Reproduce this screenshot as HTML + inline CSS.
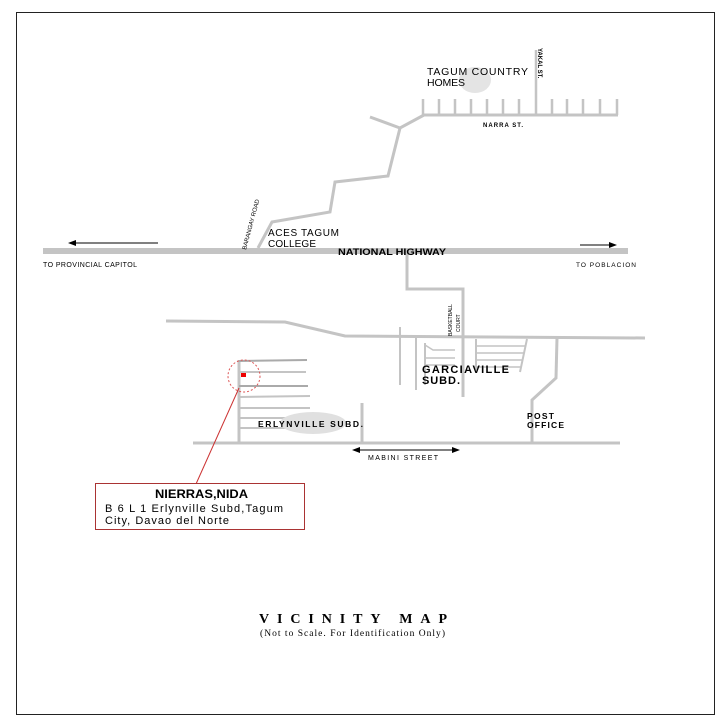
<!DOCTYPE html>
<html><head><style>
body{margin:0;background:#fff}
svg{display:block}
.s{font-family:"Liberation Sans",sans-serif}
</style></head><body>
<svg width="720" height="720" viewBox="0 0 720 720" xmlns="http://www.w3.org/2000/svg">
<rect width="720" height="720" fill="#fff"/>
<rect x="16.5" y="12.5" width="698" height="702" fill="none" stroke="#222" stroke-width="1"/>
<g stroke="#c4c4c4" fill="none" stroke-linejoin="miter">
 <line x1="43" y1="251" x2="628" y2="251" stroke-width="6"/>
 <polyline points="258,248 272,222 330,212 335,182 388,176 400,128" stroke-width="3"/>
 <polyline points="370,117 400,128 424,115" stroke-width="3"/>
 <line x1="423" y1="115" x2="618" y2="115" stroke-width="3"/>
 <g stroke-width="2.5">
  <line x1="423" y1="99" x2="423" y2="115"/><line x1="439" y1="99" x2="439" y2="115"/>
  <line x1="455" y1="99" x2="455" y2="115"/><line x1="471" y1="99" x2="471" y2="115"/>
  <line x1="487" y1="99" x2="487" y2="115"/><line x1="503" y1="99" x2="503" y2="115"/>
  <line x1="519" y1="99" x2="519" y2="115"/><line x1="536" y1="50" x2="536" y2="115"/>
  <line x1="552" y1="99" x2="552" y2="115"/><line x1="567" y1="99" x2="567" y2="115"/>
  <line x1="583" y1="99" x2="583" y2="115"/><line x1="600" y1="99" x2="600" y2="115"/>
  <line x1="617" y1="99" x2="617" y2="115"/>
 </g>
 <polyline points="407,254 407,289 463,289 463,397" stroke-width="3"/>
 <polyline points="166,321 285,322 345,336 645,338" stroke-width="3"/>
 <line x1="400" y1="327" x2="400" y2="385" stroke-width="2"/>
 <line x1="416" y1="338" x2="416" y2="390" stroke-width="2"/>
 <line x1="425" y1="343" x2="425" y2="385" stroke-width="2"/>
 <g stroke-width="1.5">
  <polyline points="425,345 433,350 455,350"/>
  <line x1="425" y1="358" x2="455" y2="358"/>
  <line x1="425" y1="365" x2="455" y2="365"/>
 </g>
 <line x1="476" y1="339" x2="476" y2="372" stroke-width="2"/>
 <line x1="527" y1="339" x2="520" y2="372" stroke-width="2"/>
 <g stroke-width="1.5">
  <line x1="476" y1="346" x2="525" y2="346"/><line x1="476" y1="353" x2="524" y2="353"/>
  <line x1="476" y1="360" x2="523" y2="360"/><line x1="476" y1="367" x2="521" y2="367"/>
 </g>
 <polyline points="557,338 556,378 532,400 532,442" stroke-width="3"/>
 <line x1="193" y1="443" x2="620" y2="443" stroke-width="3"/>
 <line x1="239" y1="360" x2="239" y2="443" stroke-width="3"/>
 <line x1="362" y1="403" x2="362" y2="443" stroke-width="3"/>
 <g stroke-width="2">
  <line x1="239" y1="361" x2="307" y2="360" stroke="#aaa"/>
  <line x1="239" y1="372" x2="306" y2="372"/>
  <line x1="239" y1="386" x2="308" y2="386" stroke="#aaa"/>
  <line x1="239" y1="397" x2="310" y2="396"/>
  <line x1="239" y1="408" x2="310" y2="408"/>
  <line x1="239" y1="418" x2="310" y2="418"/>
  <line x1="239" y1="428" x2="300" y2="428"/>
 </g>
</g>
<ellipse cx="475" cy="80" rx="16" ry="13" fill="#e4e4e4"/>
<ellipse cx="313" cy="423" rx="33" ry="11" fill="#e0e0e0"/>
<g stroke="#000" stroke-width="1">
 <line x1="74" y1="243" x2="158" y2="243"/>
 <line x1="580" y1="245" x2="612" y2="245"/>
 <line x1="355" y1="450" x2="457" y2="450"/>
</g>
<polygon points="68,243 76,240 76,246" fill="#000"/>
<polygon points="617,245 609,242 609,248" fill="#000"/>
<polygon points="352,450 360,447 360,453" fill="#000"/>
<polygon points="460,450 452,447 452,453" fill="#000"/>
<circle cx="244" cy="376" r="16" fill="none" stroke="#d55" stroke-width="1" stroke-dasharray="2,2"/>
<rect x="241" y="373" width="5" height="4" fill="#e00"/>
<line x1="239" y1="388" x2="196" y2="484" stroke="#c33" stroke-width="1"/>
<rect x="95.5" y="483.5" width="209" height="46" fill="#fff" stroke="#a33" stroke-width="1"/>
<g class="s" fill="#000">
 <text x="155" y="498" font-size="11.5" font-weight="bold" textLength="93" lengthAdjust="spacingAndGlyphs">NIERRAS,NIDA</text>
 <text x="105" y="512" font-size="11" textLength="178">B 6 L 1 Erlynville Subd,Tagum</text>
 <text x="105" y="524" font-size="11" textLength="124">City, Davao del Norte</text>
 <text x="427" y="75" font-size="10.5" textLength="101">TAGUM COUNTRY</text>
 <text x="427" y="86" font-size="10.5" textLength="38">HOMES</text>
 <text x="483" y="127" font-size="6" font-weight="bold" textLength="40">NARRA ST.</text>
 <text transform="translate(538,48) rotate(90)" font-size="6" font-weight="bold">YAKAL ST.</text>
 <text x="268" y="236" font-size="10" textLength="71">ACES TAGUM</text>
 <text x="268" y="247" font-size="10" textLength="48">COLLEGE</text>
 <text transform="translate(246,250) rotate(-75)" font-size="6">BARANGAY ROAD</text>
 <text x="338" y="255" font-size="9.5" font-weight="bold" textLength="108" lengthAdjust="spacingAndGlyphs">NATIONAL HIGHWAY</text>
 <text x="43" y="267" font-size="7" textLength="94">TO PROVINCIAL CAPITOL</text>
 <text x="576" y="267" font-size="6.5" textLength="60">TO POBLACION</text>
 <text transform="translate(452,336) rotate(-90)" font-size="5">BASKETBALL</text>
 <text transform="translate(460,332) rotate(-90)" font-size="5">COURT</text>
 <text x="422" y="373" font-size="11" font-weight="bold" textLength="87">GARCIAVILLE</text>
 <text x="422" y="384" font-size="11" font-weight="bold" textLength="38">SUBD.</text>
 <text x="258" y="427" font-size="8.5" font-weight="bold" textLength="105">ERLYNVILLE SUBD.</text>
 <text x="527" y="419" font-size="8.5" font-weight="bold" textLength="27">POST</text>
 <text x="527" y="428" font-size="8.5" font-weight="bold" textLength="37">OFFICE</text>
 <text x="368" y="460" font-size="7" textLength="70">MABINI STREET</text>
</g>
<text x="259" y="623" font-family="Liberation Serif,serif" font-size="14" font-weight="bold" textLength="188">VICINITY MAP</text>
<text x="260" y="636" font-family="Liberation Serif,serif" font-size="9.5" textLength="185">(Not to Scale. For Identification Only)</text>
</svg>
</body></html>
